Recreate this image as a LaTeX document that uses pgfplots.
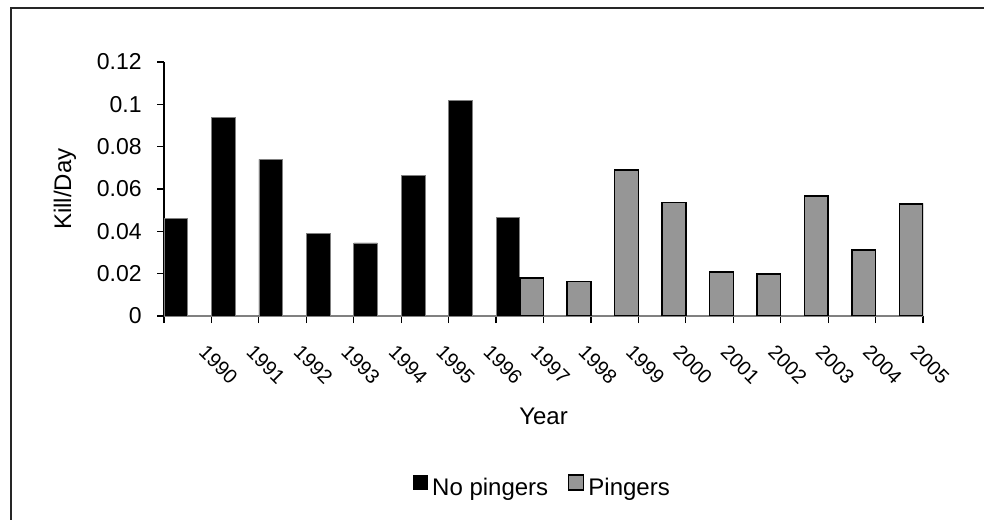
\documentclass[border=0pt]{standalone}
\usepackage{pgfplots}
\pgfplotsset{compat=1.18}
\usepackage{fontspec}
\setmainfont{Liberation Sans}
\definecolor{pgray}{RGB}{150,150,150}
\definecolor{axgray}{RGB}{128,128,128}
\begin{document}
\begin{tikzpicture}
\draw[line width=1bp, black!85] (5.5bp,-10bp) -- (5.5bp,256bp) -- (520bp,256bp);
\begin{axis}[
  at={(82bp,102bp)}, anchor=south west,
  scale only axis, width=379.5bp, height=127bp,
  xmin=-0.5, xmax=15.5, ymin=0, ymax=0.12,
  axis x line*=bottom, axis y line*=left,
  x axis line style={axgray, line width=0.9bp, -},
  y axis line style={black, line width=0.6bp, -},
  tick align=outside,
  major tick length=3.5bp,
  tick style={black, line width=0.6bp},
  /pgf/number format/assume math mode=true,
  ytick={0,0.02,0.04,0.06,0.08,0.1,0.12},
  yticklabels={0,0.02,0.04,0.06,0.08,0.1,0.12},
  yticklabel style={anchor=east, inner sep=0pt, xshift=-7.5bp, font=\fontsize{11.5bp}{13bp}\selectfont},
  xtick={-0.5,0.5,...,15.5},
  xticklabel={\mbox{}},
  extra x ticks={0,1,2,3,4,5,6,7,8,9,10,11,12,13,14,15},
  extra x tick labels={1990,1991,1992,1993,1994,1995,1996,1997,1998,1999,2000,2001,2002,2003,2004,2005},
  extra x tick style={tick style={draw=none},
    xticklabel style={xshift=10bp, yshift=-10bp, rotate=-45, anchor=north west, inner sep=0pt, font=\fontsize{10bp}{12bp}\selectfont}},
  xlabel={Year},
  ylabel={Kill/Day},
  every axis x label/.style={at={(axis description cs:0.5,-0.394)}, anchor=center, font=\fontsize{12bp}{14bp}\selectfont},
  every axis y label/.style={at={(axis description cs:-0.1304,0.5)}, rotate=90, anchor=center, font=\fontsize{12bp}{14bp}\selectfont},
  legend columns=2,
  legend style={at={(axis description cs:0.5,-0.677)}, anchor=center, draw=none, fill=none,
    font=\fontsize{12bp}{14bp}\selectfont,
    /tikz/every even column/.append style={column sep=8bp}},
]
\addplot[ybar, bar width=0.5, bar shift=-0.25, fill=black, draw=axgray, line width=0.3bp,
  legend image code/.code={\draw[fill=black, draw=none] (0bp,-1bp) rectangle (7.5bp,6.5bp);}]
  coordinates {(0,0.046) (1,0.094) (2,0.074) (3,0.039) (4,0.0345) (5,0.0665) (6,0.102) (7,0.0465)};
\addplot[ybar, bar width=0.5, bar shift=0.25, fill=pgray, draw=black, line width=0.75bp,
  legend image code/.code={\draw[fill=pgray, draw=black, line width=0.6bp] (0bp,-1bp) rectangle (7.5bp,6.5bp);}]
  coordinates {(7,0.018) (8,0.0162) (9,0.069) (10,0.0537) (11,0.0208) (12,0.0198) (13,0.0567) (14,0.0312) (15,0.0529)};
\legend{No pingers, Pingers}
\end{axis}
\pgfresetboundingbox
\path[use as bounding box] (0,0) rectangle (492bp,260bp);
\end{tikzpicture}
\end{document}
